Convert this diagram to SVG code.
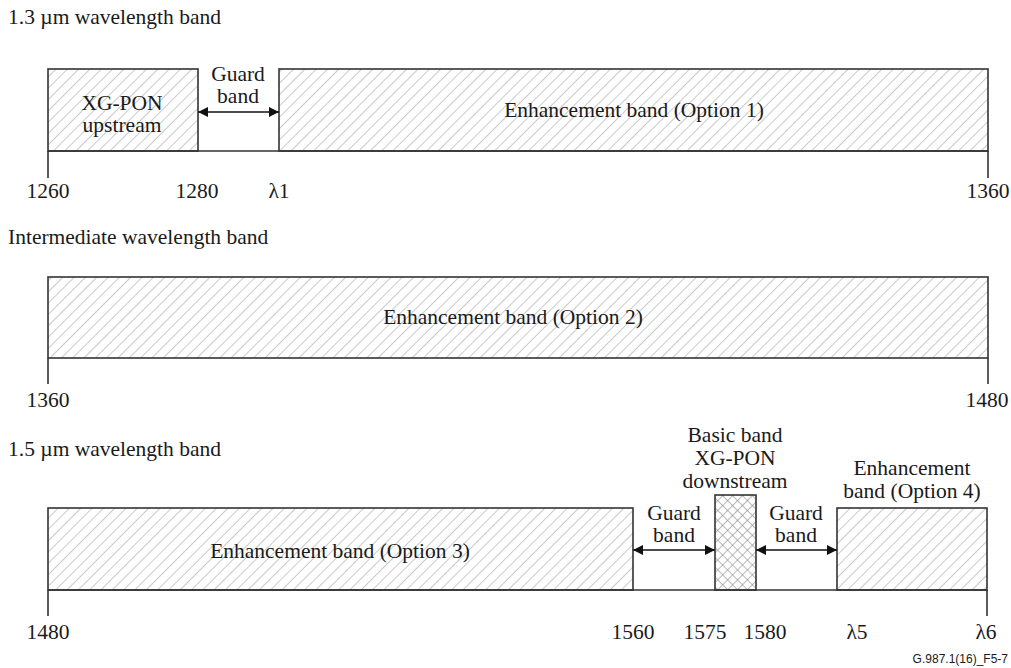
<svg xmlns="http://www.w3.org/2000/svg" width="1011" height="668" viewBox="0 0 1011 668">
  <style>
    text { font-family: "Liberation Serif", "Times New Roman", serif; font-size: 21.5px; fill: #1a1a1a; }
    .c { text-anchor: middle; }
    .note { font-family: "Liberation Sans", Arial, sans-serif; font-size: 12px; text-anchor: end; }
    .band { stroke: #333; stroke-width: 1.6; }
    .hatch { fill: url(#diag); }
    .cross { fill: url(#xhatch); }
    .axis { stroke: #333; stroke-width: 1.6; fill: none; }
    .arrow { stroke: #111; stroke-width: 1.6; marker-start: url(#head); marker-end: url(#head); }
  </style>
  <defs>
    <pattern id="diag" patternUnits="userSpaceOnUse" width="8" height="8" patternTransform="rotate(45)">
      <rect width="8" height="8" fill="#fff"/>
      <line x1="0" y1="0" x2="0" y2="8" stroke="#a6a6a6" stroke-width="1.2"/>
    </pattern>
    <pattern id="xhatch" patternUnits="userSpaceOnUse" width="7" height="7" patternTransform="rotate(45)">
      <rect width="7" height="7" fill="#fff"/>
      <line x1="0" y1="0" x2="0" y2="7" stroke="#8a8a8a" stroke-width="1.2"/>
      <line x1="0" y1="0" x2="7" y2="0" stroke="#8a8a8a" stroke-width="1.2"/>
    </pattern>
    <marker id="head" viewBox="0 0 10 10" refX="10" refY="5" markerWidth="10" markerHeight="10" markerUnits="userSpaceOnUse" orient="auto-start-reverse">
      <path d="M0,0 L10,5 L0,10 z" fill="#111"/>
    </marker>
  </defs>

  <rect width="1011" height="668" fill="#fff"/>

  <!-- 1.3 um band -->
  <text x="8" y="24">1.3 µm wavelength band</text>
  <g id="xgpon-upstream">
    <rect class="band hatch" x="48" y="69" width="150" height="82"/>
    <text class="c" x="122" y="110">XG-PON</text>
    <text class="c" x="122" y="132">upstream</text>
  </g>
  <g id="enh-opt1">
    <rect class="band hatch" x="279" y="69" width="709" height="82"/>
    <text class="c" x="634" y="117">Enhancement band (Option 1)</text>
  </g>
  <g id="guard-1">
    <text class="c" x="238" y="81">Guard</text>
    <text class="c" x="238" y="103">band</text>
  </g>
  <g id="axis-13">
    <path class="axis" d="M48,151 H988 M48,151 V178 M988,151 V178"/>
    <text class="c" x="48" y="198">1260</text>
    <text class="c" x="197" y="198">1280</text>
    <text class="c" x="279" y="198">λ1</text>
    <text class="c" x="988" y="198">1360</text>
  </g>

  <!-- Intermediate band -->
  <text x="8" y="244">Intermediate wavelength band</text>
  <g id="enh-opt2">
    <rect class="band hatch" x="48" y="277" width="940" height="81"/>
    <text class="c" x="513" y="324">Enhancement band (Option 2)</text>
  </g>
  <g id="axis-int">
    <path class="axis" d="M48,358 V384 M988,358 V384"/>
    <text class="c" x="48" y="407">1360</text>
    <text class="c" x="987" y="407">1480</text>
  </g>

  <!-- 1.5 um band -->
  <text x="8" y="456">1.5 µm wavelength band</text>
  <g id="enh-opt3">
    <rect class="band hatch" x="48" y="508" width="585" height="82"/>
    <text class="c" x="340" y="558">Enhancement band (Option 3)</text>
  </g>
  <g id="basic-band">
    <rect class="band cross" x="715" y="495" width="41" height="95"/>
    <text class="c" x="735" y="442">Basic band</text>
    <text class="c" x="735" y="465">XG-PON</text>
    <text class="c" x="735" y="488">downstream</text>
  </g>
  <g id="enh-opt4">
    <rect class="band hatch" x="837" y="508" width="150" height="82"/>
    <text class="c" x="912" y="475">Enhancement</text>
    <text class="c" x="912" y="498">band (Option 4)</text>
  </g>
  <g id="guard-2">
    <text class="c" x="674" y="520">Guard</text>
    <text class="c" x="674" y="542">band</text>
  </g>
  <g id="guard-3">
    <text class="c" x="796" y="520">Guard</text>
    <text class="c" x="796" y="542">band</text>
  </g>
  <g id="axis-15">
    <path class="axis" d="M48,590 H987 M48,590 V616 M987,590 V616"/>
    <text class="c" x="48" y="639">1480</text>
    <text class="c" x="633" y="639">1560</text>
    <text class="c" x="705" y="639">1575</text>
    <text class="c" x="765" y="639">1580</text>
    <text class="c" x="857" y="639">λ5</text>
    <text class="c" x="986" y="639">λ6</text>
  </g>

  <!-- guard band arrows -->
  <g id="connectors">
    <line class="arrow" x1="198" y1="112" x2="279" y2="112"/>
    <line class="arrow" x1="633" y1="550" x2="715" y2="550"/>
    <line class="arrow" x1="756" y1="550" x2="837" y2="550"/>
  </g>

  <text class="note" x="1008" y="663">G.987.1(16)_F5-7</text>
</svg>
